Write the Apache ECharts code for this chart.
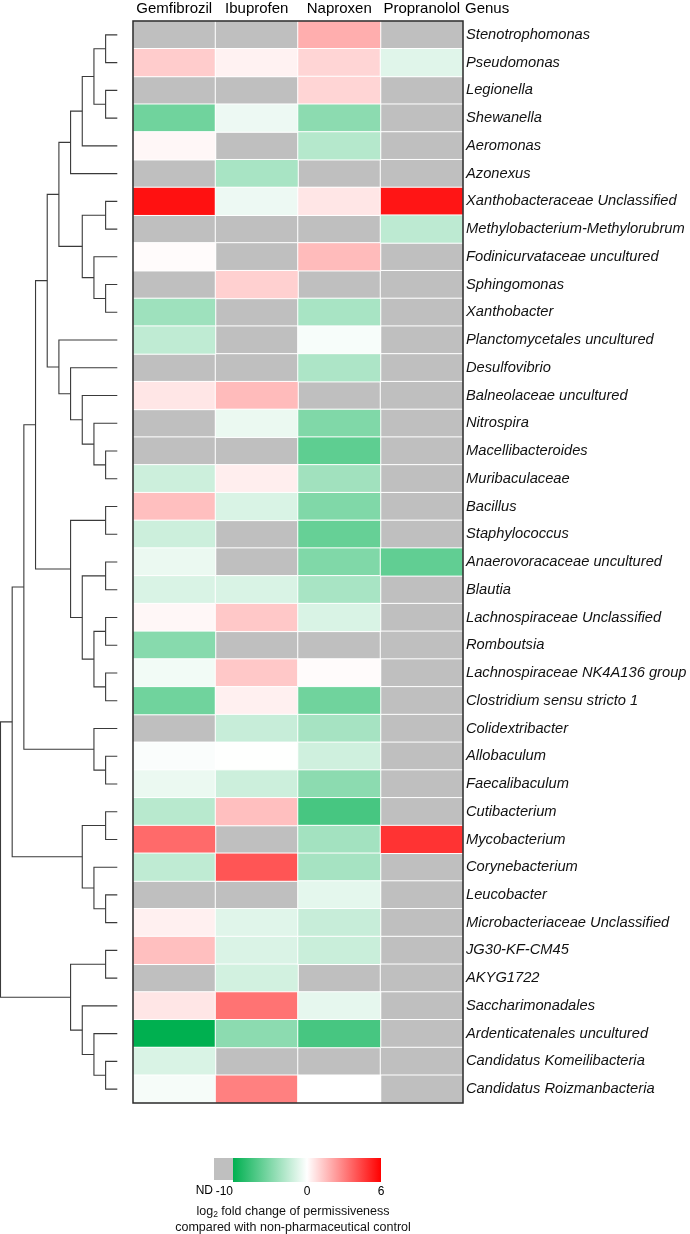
<!DOCTYPE html>
<html><head><meta charset="utf-8">
<script src="https://cdn.jsdelivr.net/npm/echarts@6/dist/echarts.min.js"></script>
<style>html,body{margin:0;padding:0;background:#fff}#c{width:690px;height:1234px}</style>
</head><body><div id="c"></div>
<script>
// ---------- DATA ----------
const drugs = ['Gemfibrozil', 'Ibuprofen', 'Naproxen', 'Propranolol'];
const genera = [
  'Stenotrophomonas', 'Pseudomonas', 'Legionella', 'Shewanella', 'Aeromonas', 'Azonexus',
  'Xanthobacteraceae Unclassified', 'Methylobacterium-Methylorubrum', 'Fodinicurvataceae uncultured',
  'Sphingomonas', 'Xanthobacter', 'Planctomycetales uncultured', 'Desulfovibrio', 'Balneolaceae uncultured',
  'Nitrospira', 'Macellibacteroides', 'Muribaculaceae', 'Bacillus', 'Staphylococcus',
  'Anaerovoracaceae uncultured', 'Blautia', 'Lachnospiraceae Unclassified', 'Romboutsia',
  'Lachnospiraceae NK4A136 group', 'Clostridium sensu stricto 1', 'Colidextribacter', 'Allobaculum',
  'Faecalibaculum', 'Cutibacterium', 'Mycobacterium', 'Corynebacterium', 'Leucobacter',
  'Microbacteriaceae Unclassified', 'JG30-KF-CM45', 'AKYG1722', 'Saccharimonadales',
  'Ardenticatenales uncultured', 'Candidatus Komeilibacteria', 'Candidatus Roizmanbacteria'
];
// log2 fold change; null = ND (not detected)
const gemfibrozil = [null, 1.2, null, -5.6, 0.2, null, 5.6, null, 0.1, null, -3.8, -2.5, null, 0.6, null, null, -2.0, 1.5, -2.0, -0.8, -1.5, 0.2, -4.7, -0.5, -5.6, null, -0.2, -0.8, -2.8, 3.5, -2.5, null, 0.35, 1.5, null, 0.6, -10, -1.5, -0.35];
const ibuprofen   = [null, 0.3, null, -0.7, null, -3.4, -0.7, null, null, 1.1, null, null, null, 1.6, -0.8, null, 0.4, -1.5, null, null, -1.5, 1.3, null, 1.3, 0.35, -2.2, -0.05, -2.0, 1.5, null, 4.0, null, -1.2, -1.45, -1.75, 3.3, -4.5, null, 3.0];
const naproxen    = [1.9, 1.0, 1.0, -4.5, -2.9, null, 0.6, null, 1.6, null, -3.4, -0.3, -3.2, null, -5.0, -6.3, -3.7, -5.0, -6.0, -5.0, -3.4, -1.5, null, 0.1, -5.6, -3.5, -1.9, -4.5, -7.2, -3.6, -3.5, -1.05, -2.2, -2.1, null, -1.0, -7.2, null, 0];
const propranolol = [null, -1.2, null, null, null, null, 5.5, -2.6, null, null, null, null, null, null, null, null, null, null, null, -6.2, null, null, null, null, null, null, null, null, null, 4.8, null, null, null, null, null, null, null, null, null];
// dendrogram merges: [childA, childB, level]; child = leaf row index or 'n<k>' (earlier merge)
const dendroMerges = [
  [0, 1, 1], [2, 3, 1], ['n0', 'n1', 2], ['n2', 4, 3], ['n3', 5, 4],
  [6, 7, 1], [9, 10, 1], [8, 'n6', 2], ['n5', 'n7', 3], ['n4', 'n8', 5],
  [15, 16, 1], [14, 'n10', 2], [13, 'n11', 3], [12, 'n12', 4], [11, 'n13', 5],
  ['n9', 'n14', 6],
  [17, 18, 1], [19, 20, 1], [21, 22, 1], [23, 24, 1], ['n18', 'n19', 2], ['n17', 'n20', 3], ['n16', 'n21', 4],
  ['n15', 'n22', 7],
  [26, 27, 1], [25, 'n24', 2], ['n23', 'n25', 8],
  [28, 29, 1], [31, 32, 1], [30, 'n28', 2], ['n27', 'n29', 3], ['n26', 'n30', 9],
  [33, 34, 1], [37, 38, 1], [36, 'n33', 2], [35, 'n34', 3], ['n32', 'n35', 4],
  ['n31', 'n36', 10]
];
const legendTicks = ['-10', '0', '6'];
const valueMin = -10, valueMax = 6;

// ---------- BUILD ----------
const GREEN = [0, 176, 80], WHITE = [255, 255, 255], RED = [255, 0, 0], ND_COLOR = '#bfbfbf';
function lerp(a, b, t) { return 'rgb(' + a.map((v, i) => Math.round(v + (b[i] - v) * t)).join(',') + ')'; }
// colour stops every 2 units so that 0 maps exactly to white
const stops = [];
for (let v = valueMin; v <= valueMax; v += 2) {
  stops.push(v <= 0 ? lerp(GREEN, WHITE, (v - valueMin) / (0 - valueMin)) : lerp(WHITE, RED, v / valueMax));
}
const columns = [gemfibrozil, ibuprofen, naproxen, propranolol];
const valued = [], nd = [];
columns.forEach((col, c) => col.forEach((v, r) => {
  if (v === null) nd.push([c, r, 0]); else valued.push([c, r, v]);
}));

// dendrogram geometry (levels & row positions)
const nodes = [];
function getNode(ch) { return typeof ch === 'number' ? { h: 0, y: ch } : nodes[+ch.slice(1)]; }
const dendroSegs = [];
dendroMerges.forEach(([a, b, lvl]) => {
  const A = getNode(a), B = getNode(b);
  dendroSegs.push([A.h, A.y, B.h, B.y, lvl]);
  nodes.push({ h: lvl, y: (A.y + B.y) / 2 });
});

const FONT = 'Liberation Sans, Arial, Helvetica, sans-serif';
const chart = echarts.init(document.getElementById('c'), null, { renderer: 'canvas' });
chart.setOption({
  backgroundColor: '#fff',
  animation: false,
  textStyle: { fontFamily: FONT },
  grid: [
    { left: 133, top: 21, width: 330, height: 1082, show: true, borderColor: '#2a2a2a', borderWidth: 1.5, backgroundColor: 'transparent', z: 5 },
    { left: 0.5, top: 21, width: 116.8, height: 1082 },
    { left: 233, top: 1158, width: 148, height: 24 }
  ],
  xAxis: [
    { type: 'category', gridIndex: 0, data: drugs, position: 'top', axisLine: { show: false }, axisTick: { show: false },
      axisLabel: { interval: 0, fontSize: 15, color: '#000', margin: 5, fontFamily: FONT }, splitLine: { show: false } },
    { type: 'value', gridIndex: 1, min: 0, max: 10, inverse: true, show: false },
    { type: 'category', gridIndex: 2, data: legendTicks, boundaryGap: false, axisLine: { show: false }, axisTick: { show: false },
      axisLabel: { interval: 0, fontSize: 12, color: '#000', margin: 4, fontFamily: FONT, alignMinLabel: 'right' } }
  ],
  yAxis: [
    { type: 'category', gridIndex: 0, data: genera, inverse: true, position: 'right', axisLine: { show: false }, axisTick: { show: false },
      axisLabel: { interval: 0, fontSize: 14.7, fontStyle: 'italic', color: '#111', margin: 3, fontFamily: FONT }, splitLine: { show: false } },
    { type: 'value', gridIndex: 1, min: -0.5, max: genera.length - 0.5, inverse: true, show: false },
    { type: 'value', gridIndex: 2, min: 0, max: 1, show: false }
  ],
  visualMap: {
    type: 'continuous', show: false, seriesIndex: 1, min: valueMin, max: valueMax, dimension: 2,
    inRange: { color: stops }
  },
  series: [
    { type: 'heatmap', xAxisIndex: 0, yAxisIndex: 0, data: nd,
      itemStyle: { color: ND_COLOR, borderColor: '#fff', borderWidth: 1 }, emphasis: { disabled: true } },
    { type: 'heatmap', xAxisIndex: 0, yAxisIndex: 0, data: valued,
      itemStyle: { borderColor: '#fff', borderWidth: 1 }, emphasis: { disabled: true } },
    { type: 'custom', xAxisIndex: 1, yAxisIndex: 1, data: dendroSegs, silent: true,
      renderItem: function (params, api) {
        const hA = api.value(0), yA = api.value(1), hB = api.value(2), yB = api.value(3), l = api.value(4);
        const pts = [api.coord([hA, yA]), api.coord([l, yA]), api.coord([l, yB]), api.coord([hB, yB])];
        return { type: 'polyline', shape: { points: pts }, style: { stroke: '#3a3a3a', lineWidth: 1.1, fill: null } };
      } },
    { type: 'custom', xAxisIndex: 2, yAxisIndex: 2, data: [[0, 0]], silent: true,
      renderItem: function (params, api) {
        const p0 = api.coord([0, 1]), p1 = api.coord([legendTicks.length - 1, 0]);
        return { type: 'group', children: [
          { type: 'rect', shape: { x: p0[0], y: p0[1], width: p1[0] - p0[0], height: p1[1] - p0[1] },
            style: { fill: new echarts.graphic.LinearGradient(0, 0, 1, 0, [
              { offset: 0, color: lerp(GREEN, GREEN, 0) }, { offset: 0.5, color: '#fff' }, { offset: 1, color: lerp(RED, RED, 0) }]) } },
          { type: 'rect', shape: { x: p0[0] - 19, y: p0[1], width: 19, height: p1[1] - p0[1] - 2 }, style: { fill: ND_COLOR } },
          { type: 'text', x: p0[0] - 20, y: p1[1] + 3, style: { text: 'ND', fontSize: 12, fill: '#000', fontFamily: FONT, align: 'right', verticalAlign: 'top' } }
        ] };
      } }
  ],
  graphic: [
    { type: 'text', left: 465, top: 1, style: { text: 'Genus', fontSize: 15, fill: '#000', fontFamily: FONT } },
    { type: 'text', x: 293, y: 1203, style: {
        text: '{a|log}{s|2}{a| fold change of permissiveness}\n{a|compared with non-pharmaceutical control}',
        align: 'center', verticalAlign: 'top', fontFamily: FONT, lineHeight: 16.5,
        rich: { a: { fontSize: 12.5, fill: '#111', fontFamily: FONT, lineHeight: 16.5 },
                s: { fontSize: 8.5, fill: '#111', fontFamily: FONT, verticalAlign: 'bottom', padding: [6, 0, 0, 0], lineHeight: 16.5 } } } }
  ]
});
</script>
</body></html>
